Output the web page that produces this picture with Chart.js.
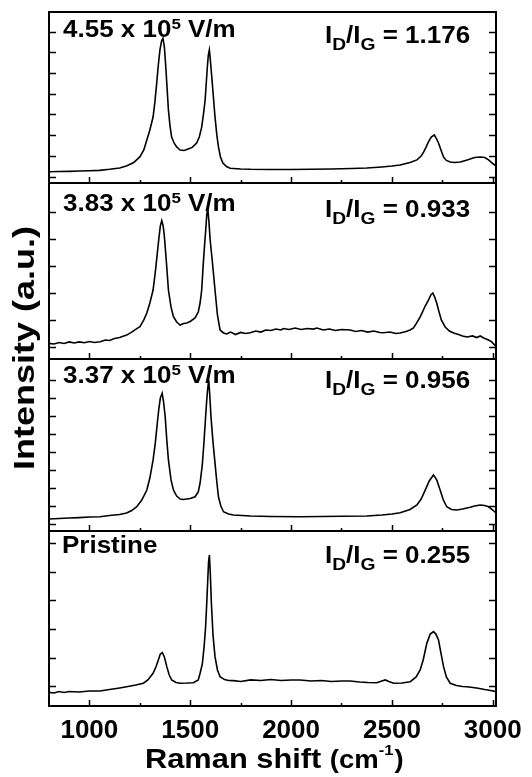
<!DOCTYPE html>
<html><head><meta charset="utf-8">
<script src="https://cdn.jsdelivr.net/npm/chart.js@4.4.0/dist/chart.umd.min.js"></script>
<style>
html,body{margin:0;padding:0;background:#fff;}
#wrap{position:relative;width:532px;height:777px;background:#fff;overflow:hidden;}
#wrap canvas{position:absolute;left:0;top:0;}
</style></head><body>
<div id="wrap">
<canvas id="c1" width="532" height="777"></canvas>
<canvas id="c2" width="532" height="777"></canvas>
<canvas id="c3" width="532" height="777"></canvas>
<canvas id="c4" width="532" height="777"></canvas>
</div>
<script>
// ---------- DATA ----------
const xTickValues = [1000, 1500, 2000, 2500, 3000];
const xMinorValues = [1250, 1750, 2250, 2750];
const fieldLabels = ['4.55 x 10', '3.83 x 10', '3.37 x 10', 'Pristine'];
const ratioLabels = ['1.176', '0.933', '0.956', '0.255'];
const xAxisTitle = 'Raman shift ';
const yAxisTitle = 'Intensity (a.u.)';

const p1x = [800,850,900,950,1000,1050,1100,1150,1187,1220,1251,1270,1285,1300,1316,1325,1334,1342,1350,1358,1365,1372,1379,1386,1392,1400,1408,1420,1433,1450,1470,1490,1510,1532,1545,1557,1567,1574,1580,1585,1590,1595,1600,1607,1615,1623,1632,1640,1650,1662,1680,1698,1750,1800,1900,2000,2100,2200,2300,2376,2450,2500,2541,2590,2624,2645,2657,2670,2681,2695,2710,2722,2731,2745,2756,2770,2789,2810,2839,2865,2888,2910,2938,2960,2979,3000,3017];
const p1y = [6.6,6.7,6.8,7.0,7.2,7.4,8.0,8.8,10.1,12.0,15.4,19.3,25.1,31.0,38.6,47.4,58.5,69.0,77.8,83.0,84.6,79.5,67.8,54.4,42.7,33.3,26.9,23.4,21.1,19.3,19.0,19.9,20.8,23.4,26.9,32.7,41.5,48.5,59.1,67.8,74.9,77.8,71.9,62.0,50.3,38.6,28.1,21.1,15.2,11.7,9.6,8.6,8.2,8.0,7.9,7.9,8.0,8.2,8.5,8.8,9.4,9.9,10.5,12.0,13.5,15.8,18.1,21.1,24.0,26.9,28.1,25.7,23.4,18.7,15.2,13.2,12.3,12.0,12.3,13.2,14.0,14.9,15.2,14.9,13.5,11.4,9.9];

const p2x = [800,825,850,875,900,925,950,975,1000,1025,1053,1080,1100,1125,1150,1185,1210,1235,1251,1270,1285,1300,1316,1327,1337,1345,1352,1359,1366,1372,1382,1392,1405,1417,1433,1450,1467,1483,1500,1524,1540,1549,1557,1565,1572,1577,1582,1587,1593,1599,1610,1623,1635,1648,1665,1681,1700,1725,1750,1775,1797,1825,1850,1875,1900,1925,1950,1962,1990,2020,2050,2080,2110,2128,2160,2190,2220,2250,2293,2320,2350,2380,2410,2440,2458,2490,2520,2541,2570,2590,2607,2625,2640,2649,2665,2681,2693,2703,2712,2722,2731,2745,2764,2785,2806,2830,2850,2872,2900,2920,2938,2955,2979,2995,3017];
const p2y = [8.9,8.5,9.4,8.8,9.7,9.1,9.7,9.2,9.9,9.4,9.8,10.8,10.5,11.6,12.2,13.6,15.3,17.3,18.4,22.2,26.1,31.8,39.2,49.4,60.2,68.8,75.6,78.6,75.6,69.5,55.1,39.2,29.5,24.0,21.0,19.3,20.2,20.5,21.3,23.3,26.7,31.8,39.2,54.5,65.9,73.3,81.8,85.8,77.8,67.6,55.1,39.2,25.0,16.5,14.8,14.2,15.3,13.9,15.1,14.5,14.9,15.9,15.3,16.5,16.2,17.0,16.5,17.3,16.8,17.6,16.8,17.3,17.0,17.6,16.5,17.0,16.2,16.8,16.5,15.6,16.2,15.3,15.9,15.1,14.9,15.3,14.5,14.8,15.6,16.5,17.6,21.0,23.9,26.1,30.1,33.5,36.4,37.5,35.2,31.8,27.8,22.2,18.2,15.9,14.8,13.9,13.1,12.5,13.1,12.2,13.1,11.9,10.8,9.7,7.0];

const p3x = [800,850,900,950,1000,1053,1100,1150,1185,1210,1235,1260,1285,1300,1316,1327,1337,1345,1352,1361,1368,1376,1384,1392,1405,1417,1433,1450,1467,1483,1500,1524,1540,1549,1560,1569,1576,1582,1587,1592,1597,1603,1613,1623,1632,1640,1652,1665,1690,1714,1800,1900,2045,2150,2250,2376,2450,2500,2541,2590,2624,2645,2665,2685,2706,2722,2739,2755,2772,2795,2822,2850,2888,2910,2938,2960,2979,3000,3017];
const p3y = [7.0,7.3,7.6,7.8,8.1,8.3,9.0,9.6,10.5,11.9,14.1,18.0,23.8,30.8,41.3,51.2,62.8,71.5,77.3,80.1,75.0,66.5,52.9,41.3,29.7,23.8,20.3,18.6,18.3,18.6,18.9,19.9,22.7,27.9,38.4,52.9,65.7,76.2,83.1,87.8,79.1,66.5,51.7,39.5,28.5,19.9,14.5,11.2,9.9,9.3,8.7,8.4,8.3,8.4,8.6,8.7,9.3,9.9,10.6,12.5,15.1,18.6,23.8,29.1,32.6,29.7,23.8,18.0,14.1,12.5,12.2,12.8,13.8,14.5,15.1,14.8,14.1,12.2,10.3];

const p4x = [800,825,850,875,900,950,1000,1053,1100,1150,1185,1230,1268,1290,1316,1330,1342,1352,1362,1372,1384,1396,1408,1430,1450,1483,1516,1540,1549,1560,1569,1576,1582,1587,1591,1595,1599,1605,1613,1623,1635,1648,1670,1690,1714,1750,1800,1850,1900,1950,2000,2045,2100,2150,2200,2250,2293,2340,2380,2425,2450,2467,2485,2508,2550,2591,2620,2640,2655,2673,2690,2706,2718,2731,2745,2756,2770,2789,2820,2850,2872,2920,2960,2990,3017];
const p4y = [7.8,7.4,8.3,7.7,8.3,8.0,8.6,8.6,9.4,10.3,11.0,12.0,13.0,14.9,18.7,22.3,26.3,29.7,30.5,28.0,22.5,17.7,14.9,13.4,13.0,13.1,13.3,14.9,18.7,24.0,33.9,44.6,58.7,72.0,82.3,86.3,77.7,58.9,40.6,28.2,20.6,16.7,15.1,14.6,14.5,14.0,14.9,14.6,15.1,14.6,14.9,14.9,14.3,14.6,14.0,14.3,14.3,13.7,13.4,13.3,14.3,14.9,14.0,13.0,13.1,13.9,16.6,20.6,26.3,35.8,41.1,42.5,41.1,37.7,29.1,22.5,16.6,13.0,11.7,11.1,11.0,10.3,9.4,8.9,8.2];

const yTicks1 = [3.8, 15.9, 28.0, 40.1, 52.2, 64.3, 76.4, 88.5];
const yTicks2 = [7.0, 22.3, 37.6, 52.9, 68.2, 83.5];
const yTicks3 = [4.1, 14.5, 25.0, 35.4, 45.9, 56.3, 66.8, 77.2, 87.7];
const yTicks4 = [11.4, 27.7, 44.1, 60.4, 76.8, 93.1];

// ---------- LAYOUT ----------
const W = 532, H = 777;
const plotLeft = 49, plotRight = 496;
const panelTops = [12, 183, 359, 531];
const panelBottoms = [183, 359, 531, 706];
const FONT = '"Liberation Sans", Arial, sans-serif';
const STRETCH = 1.13;

function richText(ctx, x, y, segs, stretch) {
  ctx.save();
  ctx.translate(x, y);
  ctx.scale(stretch, 1);
  let cx = 0;
  for (const s of segs) {
    ctx.font = 'bold ' + s.s + 'px ' + FONT;
    ctx.fillText(s.t, cx, s.dy || 0);
    cx += ctx.measureText(s.t).width + (s.gap || 0);
  }
  ctx.restore();
}

function makePlugin(i, yTicks) {
  return {
    id: 'panelDecor' + i,
    afterDraw(chart) {
      const ctx = chart.ctx;
      const a = chart.chartArea;
      const xs = chart.scales.x, ys = chart.scales.y;
      ctx.save();
      ctx.strokeStyle = '#000';
      ctx.fillStyle = '#000';
      // frame
      ctx.lineWidth = 2;
      ctx.strokeRect(a.left, a.top, a.right - a.left, a.bottom - a.top);
      // x ticks (inward, bottom)
      ctx.lineWidth = 1.5;
      ctx.beginPath();
      for (const v of xTickValues) {
        const px = Math.round(xs.getPixelForValue(v)) + 0.5;
        ctx.moveTo(px, a.bottom); ctx.lineTo(px, a.bottom - 6);
      }
      for (const v of xMinorValues) {
        const px = Math.round(xs.getPixelForValue(v)) + 0.5;
        ctx.moveTo(px, a.bottom); ctx.lineTo(px, a.bottom - 3);
      }
      // y ticks (inward, left and right)
      for (const v of yTicks) {
        const py = Math.round(ys.getPixelForValue(v)) + 0.5;
        ctx.moveTo(a.left, py); ctx.lineTo(a.left + 7, py);
        ctx.moveTo(a.right, py); ctx.lineTo(a.right - 7, py);
      }
      ctx.stroke();
      // labels
      ctx.textBaseline = 'alphabetic';
      ctx.textAlign = 'left';
      const leftBase = [37, 211, 383, 553][i];
      const rightBase = [43, 217, 388, 563][i];
      if (i < 3) {
        richText(ctx, 63, leftBase, [
          {t: fieldLabels[i], s: 23},
          {t: '5', s: 15, dy: -8},
          {t: ' V/m', s: 23}
        ], STRETCH);
      } else {
        richText(ctx, 62, leftBase, [{t: fieldLabels[i], s: 23}], STRETCH);
      }
      richText(ctx, 325, rightBase, [
        {t: 'I', s: 23}, {t: 'D', s: 17, dy: 7},
        {t: '/I', s: 23}, {t: 'G', s: 17, dy: 7},
        {t: ' = ' + ratioLabels[i], s: 23}
      ], STRETCH);
      if (i === 3) {
        // x axis title
        richText(ctx, 145, 768, [
          {t: xAxisTitle, s: 28},
          {t: '(cm', s: 25},
          {t: '-1', s: 15, dy: -13, gap: 1},
          {t: ')', s: 25}
        ], 1.1);
        // y axis title
        ctx.save();
        ctx.translate(34, 470);
        ctx.rotate(-Math.PI / 2);
        ctx.scale(1.2, 1);
        ctx.font = 'bold 30px ' + FONT;
        ctx.fillText(yAxisTitle, 0, 0);
        ctx.restore();
      }
      ctx.restore();
    }
  };
}

const series = [[p1x, p1y], [p2x, p2y], [p3x, p3y], [p4x, p4y]];
const yTickSets = [yTicks1, yTicks2, yTicks3, yTicks4];

series.forEach(([xv, yv], i) => {
  const isBottom = i === 3;
  const data = xv.map((x, k) => ({x: x, y: yv[k]}));
  new Chart(document.getElementById('c' + (i + 1)), {
    type: 'line',
    data: {
      datasets: [{
        data: data,
        borderColor: '#000',
        borderWidth: 1.6,
        pointRadius: 0,
        tension: 0,
        fill: false
      }]
    },
    options: {
      responsive: false,
      animation: false,
      devicePixelRatio: 1,
      events: [],
      layout: {
        padding: {
          left: plotLeft,
          right: W - plotRight,
          top: panelTops[i],
          bottom: isBottom ? 0 : H - panelBottoms[i]
        }
      },
      plugins: {legend: {display: false}, tooltip: {enabled: false}, title: {display: false}},
      scales: {
        x: {
          type: 'linear',
          min: 800,
          max: 3016,
          display: isBottom,
          afterBuildTicks(scale) { scale.ticks = xTickValues.map(v => ({value: v})); },
          afterFit(scale) { if (isBottom) scale.height = H - panelBottoms[3]; },
          grid: {display: false, drawTicks: false},
          border: {display: false},
          ticks: {
            color: '#000',
            padding: 9,
            maxRotation: 0,
            autoSkip: false,
            font: {family: FONT, size: 26, weight: 'bold'},
            callback: v => String(v)
          }
        },
        y: {
          type: 'linear',
          min: 0,
          max: 100,
          display: false
        }
      }
    },
    plugins: [makePlugin(i, yTickSets[i])]
  });
});
</script>
</body></html>
